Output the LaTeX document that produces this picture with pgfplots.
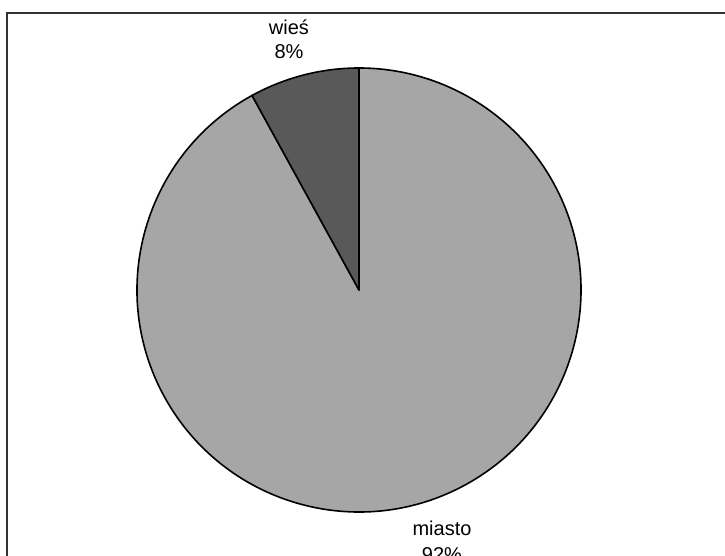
\documentclass[border=0pt]{standalone}
\usepackage{pgfplots}
\pgfplotsset{compat=1.18}
\usepackage{pgfplotstable}
\usepackage{fontspec}
\setmainfont{Liberation Sans}
\definecolor{miastocol}{RGB}{166,166,166}
\definecolor{wiescol}{RGB}{89,89,89}
\definecolor{framecol}{RGB}{50,50,50}
\pgfplotstableread{
idx share
0 8
1 92
}\piedata
\pgfplotstablegetelem{0}{share}\of\piedata
\xdef\sharewies{\pgfplotsretval}
\pgfplotstablegetelem{1}{share}\of\piedata
\xdef\sharemiasto{\pgfplotsretval}
\pgfmathsetmacro\endwies{90+3.6*\sharewies}
\pgfmathsetmacro\endmiasto{\endwies+3.6*\sharemiasto}
\begin{document}
\begin{tikzpicture}
\useasboundingbox (0,0) rectangle (362.5pt,278pt);
\clip (0,0) rectangle (362.5pt,278pt);
\begin{axis}[
  hide axis, scale only axis,
  x=0.5pt, y=0.5pt,
  xmin=0, xmax=725, ymin=0, ymax=556,
  at={(0,0)}, anchor=south west,
  clip=true,
]
\addplot[draw=none] coordinates {(0,0) (725,556)};
% frame
\draw[line width=1pt, color=framecol] (axis cs:7,-20) -- (axis cs:7,543) -- (axis cs:760,543);
% slices
\filldraw[fill=miastocol, draw=black, line width=0.8pt, line join=round]
  (axis cs:359,266) -- ++(\endwies:111pt) arc[start angle=\endwies, end angle=\endmiasto, radius=111pt] -- cycle;
\filldraw[fill=wiescol, draw=black, line width=0.8pt, line join=round]
  (axis cs:359,266) -- ++(90:111pt) arc[start angle=90, end angle=\endwies, radius=111pt] -- cycle;
% labels
\node[anchor=base, font=\fontsize{10pt}{12pt}\selectfont, inner sep=0pt] at (axis cs:289,521) {wieś};
\node[anchor=base, font=\fontsize{10pt}{12pt}\selectfont, inner sep=0pt] at (axis cs:289,497) {\sharewies\%};
\node[anchor=base, font=\fontsize{10pt}{12pt}\selectfont, inner sep=0pt] at (axis cs:442,20) {miasto};
\node[anchor=base, font=\fontsize{10pt}{12pt}\selectfont, inner sep=0pt] at (axis cs:442,-6) {\sharemiasto\%};
\end{axis}
\end{tikzpicture}
\end{document}
